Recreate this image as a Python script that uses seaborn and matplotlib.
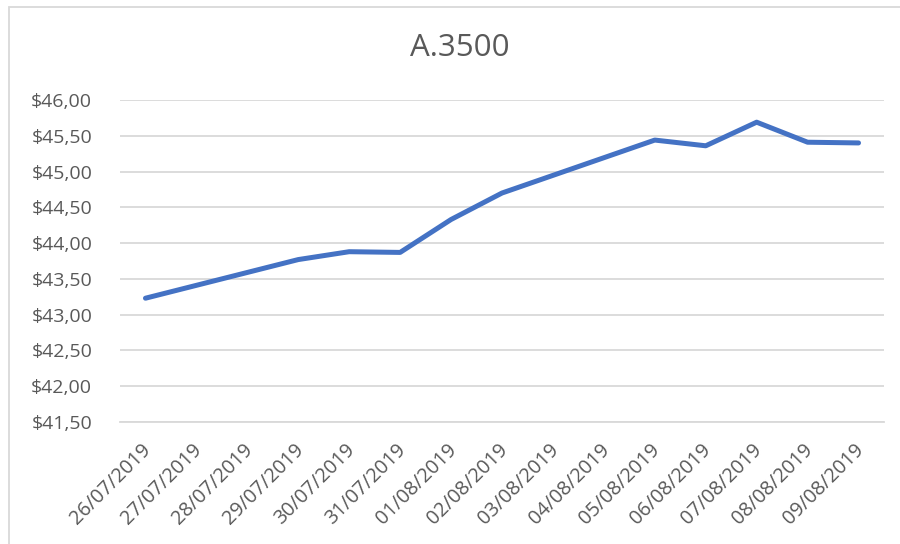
import matplotlib
matplotlib.use("Agg")
import matplotlib.pyplot as plt
import matplotlib.dates as mdates
import matplotlib.ticker as mticker
from matplotlib.patches import Rectangle
from matplotlib.transforms import ScaledTranslation
import seaborn as sns
import pandas as pd

# ---- data ----
title = "A.3500"
dates = ["26/07/2019", "29/07/2019", "30/07/2019", "31/07/2019", "01/08/2019",
         "02/08/2019", "05/08/2019", "06/08/2019", "07/08/2019", "08/08/2019",
         "09/08/2019"]
prices = [43.23, 43.77, 43.88, 43.87, 44.33, 44.70, 45.44, 45.36, 45.69, 45.41, 45.40]
axis_start = "26/07/2019"
axis_end = "09/08/2019"
y_ticks = [41.5, 42.0, 42.5, 43.0, 43.5, 44.0, 44.5, 45.0, 45.5, 46.0]

df = pd.DataFrame({"date": pd.to_datetime(dates, format="%d/%m/%Y"), "price": prices})

sns.set_theme(style="white")
plt.rcParams["font.family"] = ["Open Sans", "DejaVu Sans"]

TXT = "#595959"
GRID = "#D9D9D9"
BLUE = "#4472C4"

fig = plt.figure(figsize=(9, 5.44), dpi=100)
ax = fig.add_axes([120 / 900, 1 - 422 / 544, 764 / 900, 322 / 544])

sns.lineplot(data=df, x="date", y="price", ax=ax, color=BLUE, linewidth=3.6,
             solid_capstyle="round", solid_joinstyle="round")

# x axis (date axis with one category per day)
all_days = pd.date_range(pd.to_datetime(axis_start, format="%d/%m/%Y"),
                         pd.to_datetime(axis_end, format="%d/%m/%Y"), freq="D")
centers = mdates.date2num(all_days)
bounds = list(centers - 0.5) + [centers[-1] + 0.5]
ax.set_xlim(bounds[0], bounds[-1])
ax.xaxis.set_major_locator(mticker.FixedLocator(bounds))
ax.xaxis.set_major_formatter(mticker.NullFormatter())
ax.xaxis.set_minor_locator(mticker.FixedLocator(centers))
ax.xaxis.set_minor_formatter(mticker.FixedFormatter([d.strftime("%d/%m/%Y") for d in all_days]))
ax.tick_params(axis="x", which="major", length=5, width=1, color=GRID, direction="out")
ax.tick_params(axis="x", which="minor", length=0, pad=13, labelsize=14.3, labelcolor=TXT)
shift = ScaledTranslation(-4.5 / 100, 0, fig.dpi_scale_trans)
for lab in ax.get_xticklabels(minor=True):
    lab.set_rotation(45)
    lab.set_ha("right")
    lab.set_va("top")
    lab.set_rotation_mode("anchor")
    lab.set_transform(lab.get_transform() + shift)

# y axis
ax.set_ylim(y_ticks[0], y_ticks[-1])
ax.yaxis.set_major_locator(mticker.FixedLocator(y_ticks))
ax.yaxis.set_major_formatter(mticker.FuncFormatter(lambda v, p: f"${v:.2f}".replace(".", ",")))
ax.tick_params(axis="y", length=0, pad=20, labelsize=14, labelcolor=TXT)
ax.grid(axis="y", color=GRID, linewidth=1.3)
ax.set_axisbelow(True)

for s in ["left", "top", "right"]:
    ax.spines[s].set_visible(False)
ax.spines["bottom"].set_color(GRID)
ax.spines["bottom"].set_linewidth(1.3)
ax.set_xlabel("")
ax.set_ylabel("")

fig.text(460 / 900, 1 - 48 / 544, title, ha="center", va="center",
         fontsize=22.5, color=TXT)

# chart-area border
fig.patches.append(Rectangle((9 / 900, -0.1), 1.2, 1 - 7 / 544 + 0.1,
                             transform=fig.transFigure, fill=False,
                             edgecolor=GRID, linewidth=1.3))

fig.savefig("out.png", dpi=100)
